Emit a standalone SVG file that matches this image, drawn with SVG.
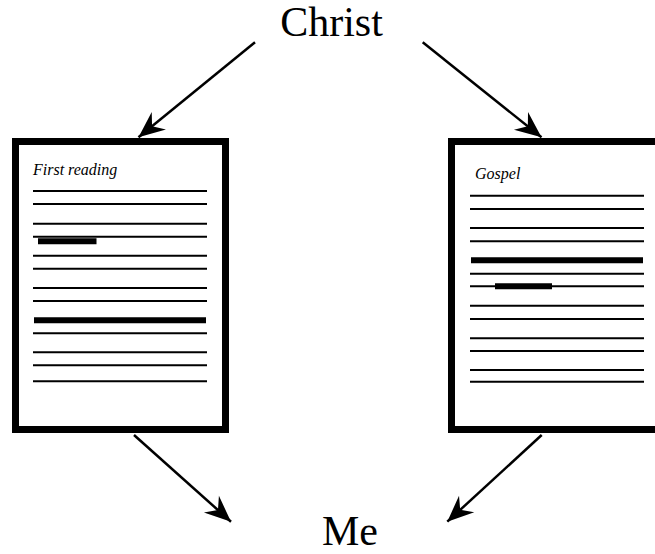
<svg xmlns="http://www.w3.org/2000/svg" width="655" height="554" viewBox="0 0 655 554">
<defs>
<style>
.title{font-family:"Liberation Serif","Times New Roman",serif;font-size:42px;fill:#000}
.lab{font-family:"Liberation Serif","Times New Roman",serif;font-size:16px;font-style:italic;fill:#000}
.page{fill:#fff;stroke:#000;stroke-width:7}
.ln{stroke:#000;stroke-width:2}
.thk{stroke:#000;stroke-width:6}
.conn{stroke:#000;stroke-width:2.5;fill:none;marker-end:url(#ah)}
</style>
<marker id="ah" markerUnits="userSpaceOnUse" markerWidth="30" markerHeight="30" viewBox="-22 -11 24 22" refX="0" refY="0" orient="auto">
<path d="M0,0 L-21,-9 L-14,0 L-21,9 Z" fill="#000"/>
</marker>
</defs>
<rect width="655" height="554" fill="#fff"/>
<g id="christ"><text class="title" x="331.5" y="36" text-anchor="middle">Christ</text></g>
<g id="me"><text class="title" x="350" y="545" text-anchor="middle">Me</text></g>
<g id="first-reading">
<rect class="page" x="15.5" y="141.5" width="210" height="288"/>
<text class="lab" x="33" y="175">First reading</text>
<g class="ln">
<line x1="33" y1="191" x2="207" y2="191"/>
<line x1="33" y1="204" x2="207" y2="204"/>
<line x1="33" y1="223.7" x2="207" y2="223.7"/>
<line x1="33" y1="236.7" x2="207" y2="236.7"/>
<line x1="33" y1="255.7" x2="207" y2="255.7"/>
<line x1="33" y1="268.7" x2="207" y2="268.7"/>
<line x1="33" y1="288" x2="207" y2="288"/>
<line x1="33" y1="301" x2="207" y2="301"/>
<line x1="33" y1="333.3" x2="207" y2="333.3"/>
<line x1="33" y1="352.3" x2="207" y2="352.3"/>
<line x1="33" y1="365.3" x2="207" y2="365.3"/>
<line x1="33" y1="381.3" x2="207" y2="381.3"/>
</g>
<line class="thk" x1="34" y1="320.3" x2="206" y2="320.3"/>
<line class="thk" x1="38" y1="241.3" x2="96.5" y2="241.3"/>
</g>
<g id="gospel">
<rect class="page" x="451.5" y="141.5" width="230" height="288"/>
<text class="lab" x="475" y="178.5">Gospel</text>
<g class="ln">
<line x1="470" y1="195.7" x2="644" y2="195.7"/>
<line x1="470" y1="209" x2="644" y2="209"/>
<line x1="470" y1="228" x2="644" y2="228"/>
<line x1="470" y1="241.3" x2="644" y2="241.3"/>
<line x1="470" y1="273.7" x2="644" y2="273.7"/>
<line x1="470" y1="286.3" x2="644" y2="286.3"/>
<line x1="470" y1="305.7" x2="644" y2="305.7"/>
<line x1="470" y1="319" x2="644" y2="319"/>
<line x1="470" y1="338.3" x2="644" y2="338.3"/>
<line x1="470" y1="351" x2="644" y2="351"/>
<line x1="470" y1="370" x2="644" y2="370"/>
<line x1="470" y1="381.7" x2="644" y2="381.7"/>
</g>
<line class="thk" x1="471" y1="260.3" x2="643" y2="260.3"/>
<line class="thk" x1="495" y1="286.3" x2="552" y2="286.3"/>
</g>
<g id="connectors">
<line class="conn" x1="255" y1="42.3" x2="138.5" y2="137.3"/>
<line class="conn" x1="422.7" y1="42.3" x2="541.5" y2="137.3"/>
<line class="conn" x1="134" y1="435" x2="231" y2="521.7"/>
<line class="conn" x1="541.7" y1="435" x2="447.3" y2="521.7"/>
</g>
</svg>
